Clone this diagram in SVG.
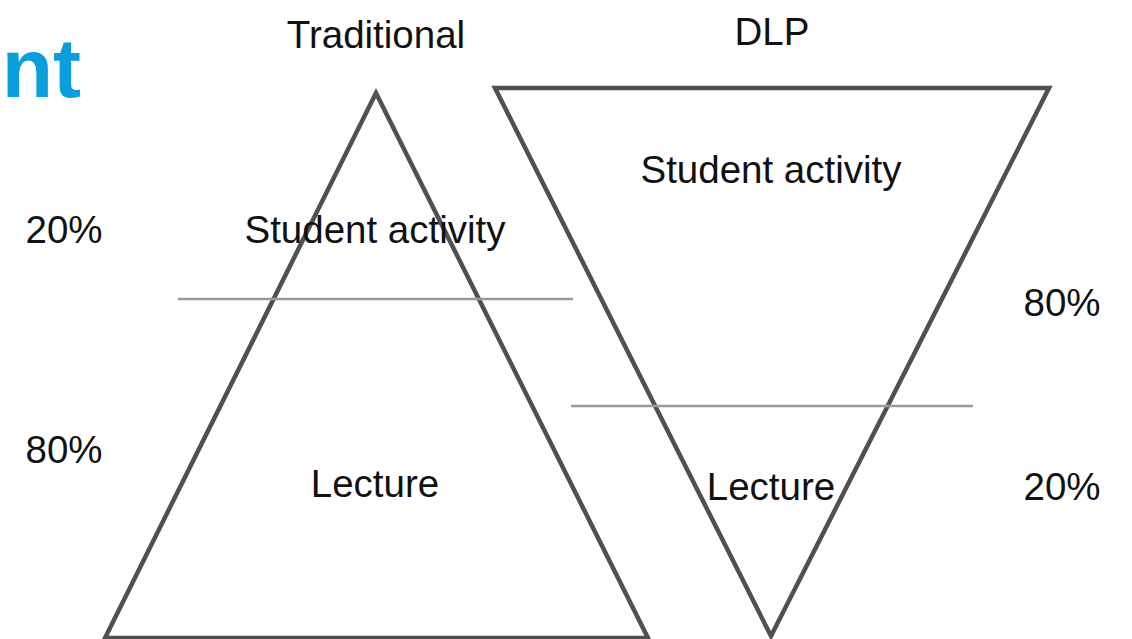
<svg xmlns="http://www.w3.org/2000/svg" width="1132" height="639" viewBox="0 0 1132 639">
<style>
.lbl{font-family:"Liberation Sans",Arial,sans-serif;font-size:38.5px;fill:#111;}
.tri{fill:none;stroke:#505050;stroke-width:4.5;stroke-linejoin:miter;}
.div{stroke:#9a9a9a;stroke-width:2.5;}
</style>
<rect width="1132" height="639" fill="#fff"/>
<text x="81" y="97" font-family="Liberation Sans,Arial,sans-serif" font-weight="bold" font-size="84" fill="#0a9edc" text-anchor="end">nt</text>
<g id="traditional">
<polygon class="tri" points="376,93 105,638 648,638"/>
<line class="div" x1="178" y1="299" x2="573" y2="299"/>
<text class="lbl" x="376" y="48" text-anchor="middle">Traditional</text>
<text class="lbl" x="375" y="243" text-anchor="middle">Student activity</text>
<text class="lbl" x="375" y="497" text-anchor="middle">Lecture</text>
<text class="lbl" x="64" y="243" text-anchor="middle">20%</text>
<text class="lbl" x="64" y="463" text-anchor="middle">80%</text>
</g>
<g id="dlp">
<polygon class="tri" points="495,88 1049,88 771,636"/>
<line class="div" x1="571" y1="406" x2="973" y2="406"/>
<text class="lbl" x="772" y="45" text-anchor="middle">DLP</text>
<text class="lbl" x="771" y="183" text-anchor="middle">Student activity</text>
<text class="lbl" x="771" y="500" text-anchor="middle">Lecture</text>
<text class="lbl" x="1062" y="316" text-anchor="middle">80%</text>
<text class="lbl" x="1062" y="500" text-anchor="middle">20%</text>
</g>
<g id="connectors"></g>
</svg>
